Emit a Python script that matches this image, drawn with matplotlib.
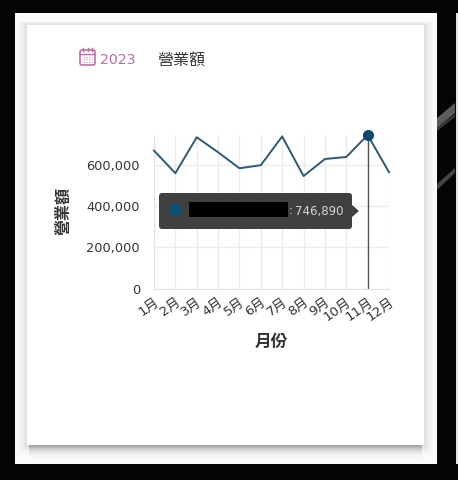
import matplotlib
matplotlib.use("Agg")
import matplotlib.pyplot as plt
from matplotlib.patches import Rectangle, FancyBboxPatch, Polygon, Circle

plt.rcParams['font.family'] = ['DejaVu Sans', 'Noto Sans CJK TC']

months = ["1月", "2月", "3月", "4月", "5月", "6月", "7月", "8月", "9月", "10月", "11月", "12月"]
sales = [671000, 561000, 736000, 663000, 585000, 600000, 740000, 547000, 630000, 640000, 746890, 566000]
y_ticks = [0, 200000, 400000, 600000]
y_labels = ["0", "200,000", "400,000", "600,000"]
active_month = 10

W, H = 458, 480
LINE = "#2f5a75"
DOT = "#0b4a6b"
TEXT = "#333333"

fig = plt.figure(figsize=(W / 100, H / 100), dpi=100, facecolor="#050505")

# background layer, pixel coords with y going down
bg = fig.add_axes([0, 0, 1, 1], zorder=0)
bg.set_xlim(0, W)
bg.set_ylim(H, 0)
bg.axis("off")

# streaks in the dark wallpaper on the right
bg.add_patch(Polygon([(437, 118), (455, 103), (455, 113), (437, 128)], fc="#5c5c5c", ec="none"))
bg.add_patch(Polygon([(437, 128), (455, 114), (455, 117), (437, 131)], fc="#3a3a3a", ec="none"))
bg.add_patch(Polygon([(437, 184), (455, 168), (455, 173), (437, 190)], fc="#444444", ec="none"))
bg.add_patch(Rectangle((455.5, 13), 3, 451, fc="#e4e4e4", ec="none", zorder=1))

# screenshot panel
bg.add_patch(Rectangle((15, 13), 421.5, 451, fc="#fbfbfb", ec="none", zorder=2))

# card shadow: weak at the sides, softer band under the card
for grow, alpha in [(10, 0.012), (8, 0.015), (6, 0.02), (4, 0.025), (2, 0.035)]:
    bg.add_patch(Rectangle((27 - grow, 25 - grow * 0.4), 397 + 2 * grow, 420 + grow * 1.4,
                           fc="black", alpha=alpha, ec="none", zorder=3))
for drop, alpha in [(14, 0.012), (12, 0.015), (10, 0.02), (8, 0.025), (6, 0.03), (4, 0.05), (2.5, 0.07), (1.2, 0.09)]:
    bg.add_patch(Rectangle((29, 430), 393, 15 + drop, fc="black", alpha=alpha, ec="none", zorder=3))
bg.add_patch(Rectangle((27, 25), 397, 420, fc="white", ec="none", zorder=4))

# chart
ax = fig.add_axes([154 / W, (H - 288.5) / H, 235 / W, 153.5 / H], zorder=1)
ax.patch.set_alpha(0)
x = list(range(len(months)))
ax.plot(x, sales, color=LINE, lw=1.4, clip_on=False, zorder=3)
ax.plot([x[active_month]] * 2, [0, sales[active_month]], color="#555555", lw=1, zorder=2)
ax.plot(x[active_month], sales[active_month], "o", ms=7, color=DOT, clip_on=False, zorder=4)

ax.set_xlim(0, len(months) - 1)
ax.set_ylim(0, 746890)
ax.set_xticks(x)
ax.set_xticklabels(months, rotation=35, ha="right", rotation_mode="anchor", fontsize=9.5, color=TEXT)
ax.set_yticks(y_ticks)
ax.set_yticklabels(y_labels, fontsize=9.3, color=TEXT)
ax.tick_params(length=0)
ax.tick_params(axis="x", pad=5)
ax.tick_params(axis="y", pad=10)
ax.grid(True, color="#ececec", lw=1)
ax.set_axisbelow(True)
for s in ax.spines.values():
    s.set_visible(False)
ax.spines["bottom"].set_visible(True)
ax.spines["bottom"].set_color("#e2e2e2")
ax.spines["left"].set_visible(True)
ax.spines["left"].set_color("#e2e2e2")

# overlay: header, axis titles, tooltip
fg = fig.add_axes([0, 0, 1, 1], zorder=2)
fg.set_xlim(0, W)
fg.set_ylim(H, 0)
fg.axis("off")
fg.patch.set_alpha(0)

PINK = "#bd6fa6"
CJK = ['Noto Sans CJK TC', 'DejaVu Sans']
fg.add_patch(FancyBboxPatch((80, 50), 15, 15, boxstyle="round,pad=0,rounding_size=2", fc="none", ec=PINK, lw=1.2))
fg.plot([80, 95], [53.5, 53.5], color=PINK, lw=1)
for px in (83, 87.5, 92):
    fg.plot([px, px], [48, 51], color=PINK, lw=1)
for py in (56.5, 59, 61.5):
    fg.plot([83, 92], [py, py], color="#d9a9cc", lw=1, ls=(0, (1, 1)))
fg.text(100, 60, "2023", color=PINK, fontsize=10.2, va="center", ha="left")
fg.text(157, 60, "營業額", color=TEXT, fontsize=11.5, va="center", ha="left", family=CJK)
fg.text(63, 211, "營業額", color="#333333", fontsize=11.5, fontweight="bold", rotation=90, va="center", ha="center", family=CJK)
fg.text(271, 342, "月份", color="#333333", fontsize=12, fontweight="bold", va="center", ha="center", family=CJK)

fg.add_patch(FancyBboxPatch((159, 193), 193, 36, boxstyle="round,pad=0,rounding_size=3", fc="#404040", ec="none"))
fg.add_patch(Polygon([(352, 205), (359, 211), (352, 217)], fc="#404040", ec="none"))
fg.add_patch(Circle((175, 210), 6.5, fc="#0b4f74", ec="none"))
fg.add_patch(Rectangle((189, 202), 99, 15, fc="black", ec="none"))
fg.text(289, 211, ":", color="#d5d5d5", fontsize=8.5, va="center", ha="left")
fg.text(295, 211, f"{sales[active_month]:,}", color="#d5d5d5", fontsize=8.5, va="center", ha="left")

fig.savefig("out.png", dpi=100, facecolor=fig.get_facecolor())
